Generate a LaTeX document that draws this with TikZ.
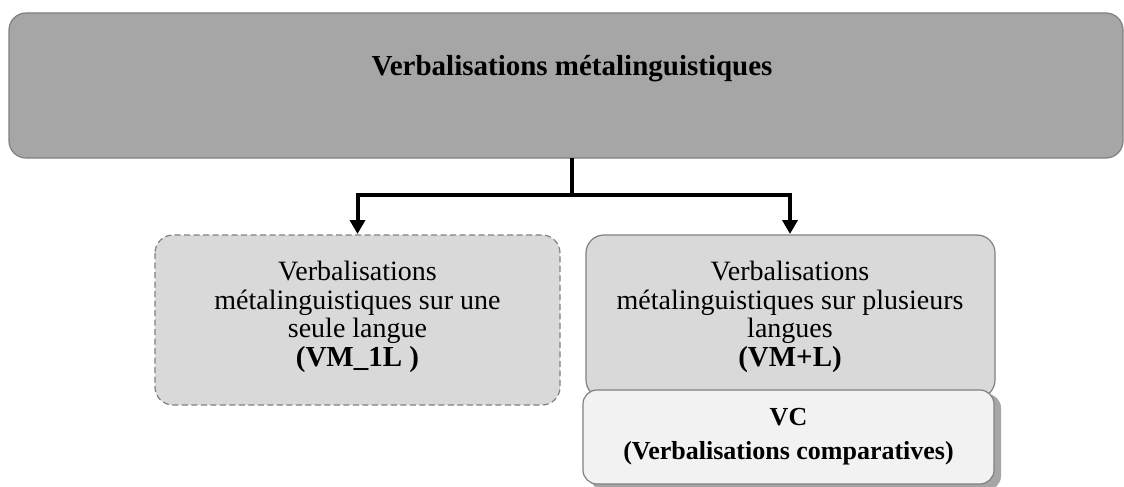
\documentclass[tikz,border=0pt]{standalone}
\usepackage{fontspec}
\setmainfont{Liberation Serif}
\usetikzlibrary{arrows.meta}
\begin{document}
\begin{tikzpicture}[x=1pt,y=-1pt,
  topbox/.style={draw=black!50,line width=1.2pt,fill=black!35,rounded corners=17pt},
  subbox/.style={draw=black!50,line width=1.2pt,fill=black!15,rounded corners=18pt},
  vcbox/.style={draw=black!50,line width=1.2pt,fill=black!5,rounded corners=14pt},
  lbl/.style={align=center,font=\fontsize{28}{28.5}\selectfont},
  conn/.style={line width=4pt,line join=miter,-{Triangle[length=14pt,width=15pt]}}]
\useasboundingbox (0,0) rectangle (1124,487);
% top box
\draw[topbox] (9,13) rectangle (1123,158);
\node[font=\fontsize{29}{30}\selectfont\bfseries] (top) at (572,69) {Verbalisations métalinguistiques};
\coordinate (tb) at (572,158);
\coordinate (split) at (572,195);
% left box
\draw[subbox,dashed,dash pattern=on 6pt off 3.5pt] (155,235) rectangle (560,405);
\node[lbl] (left) at (357.5,317) {Verbalisations\\métalinguistiques sur une\\seule langue\\{\fontsize{29}{30}\selectfont\bfseries (VM\_1L )}};
% right box
\draw[subbox] (586,235) rectangle (995,398);
\node[lbl] (right) at (790,317) {Verbalisations\\métalinguistiques sur plusieurs\\langues\\{\fontsize{29}{30}\selectfont\bfseries (VM+L)}};
% VC box with shadow
\fill[black!35,rounded corners=14pt] (590,394) rectangle (1001,490);
\draw[vcbox] (583,390) rectangle (994,484);
\node[align=center,font=\fontsize{26}{34}\selectfont\bfseries] (vc) at (788.5,437) {VC\\(Verbalisations comparatives)};
% connectors
\coordinate (la) at (357.5,234);
\coordinate (ra) at (790,234);
\draw[line width=4pt] (tb) -- (split);
\draw[conn] (split) -| (la);
\draw[conn] (split) -| (ra);
\end{tikzpicture}
\end{document}
